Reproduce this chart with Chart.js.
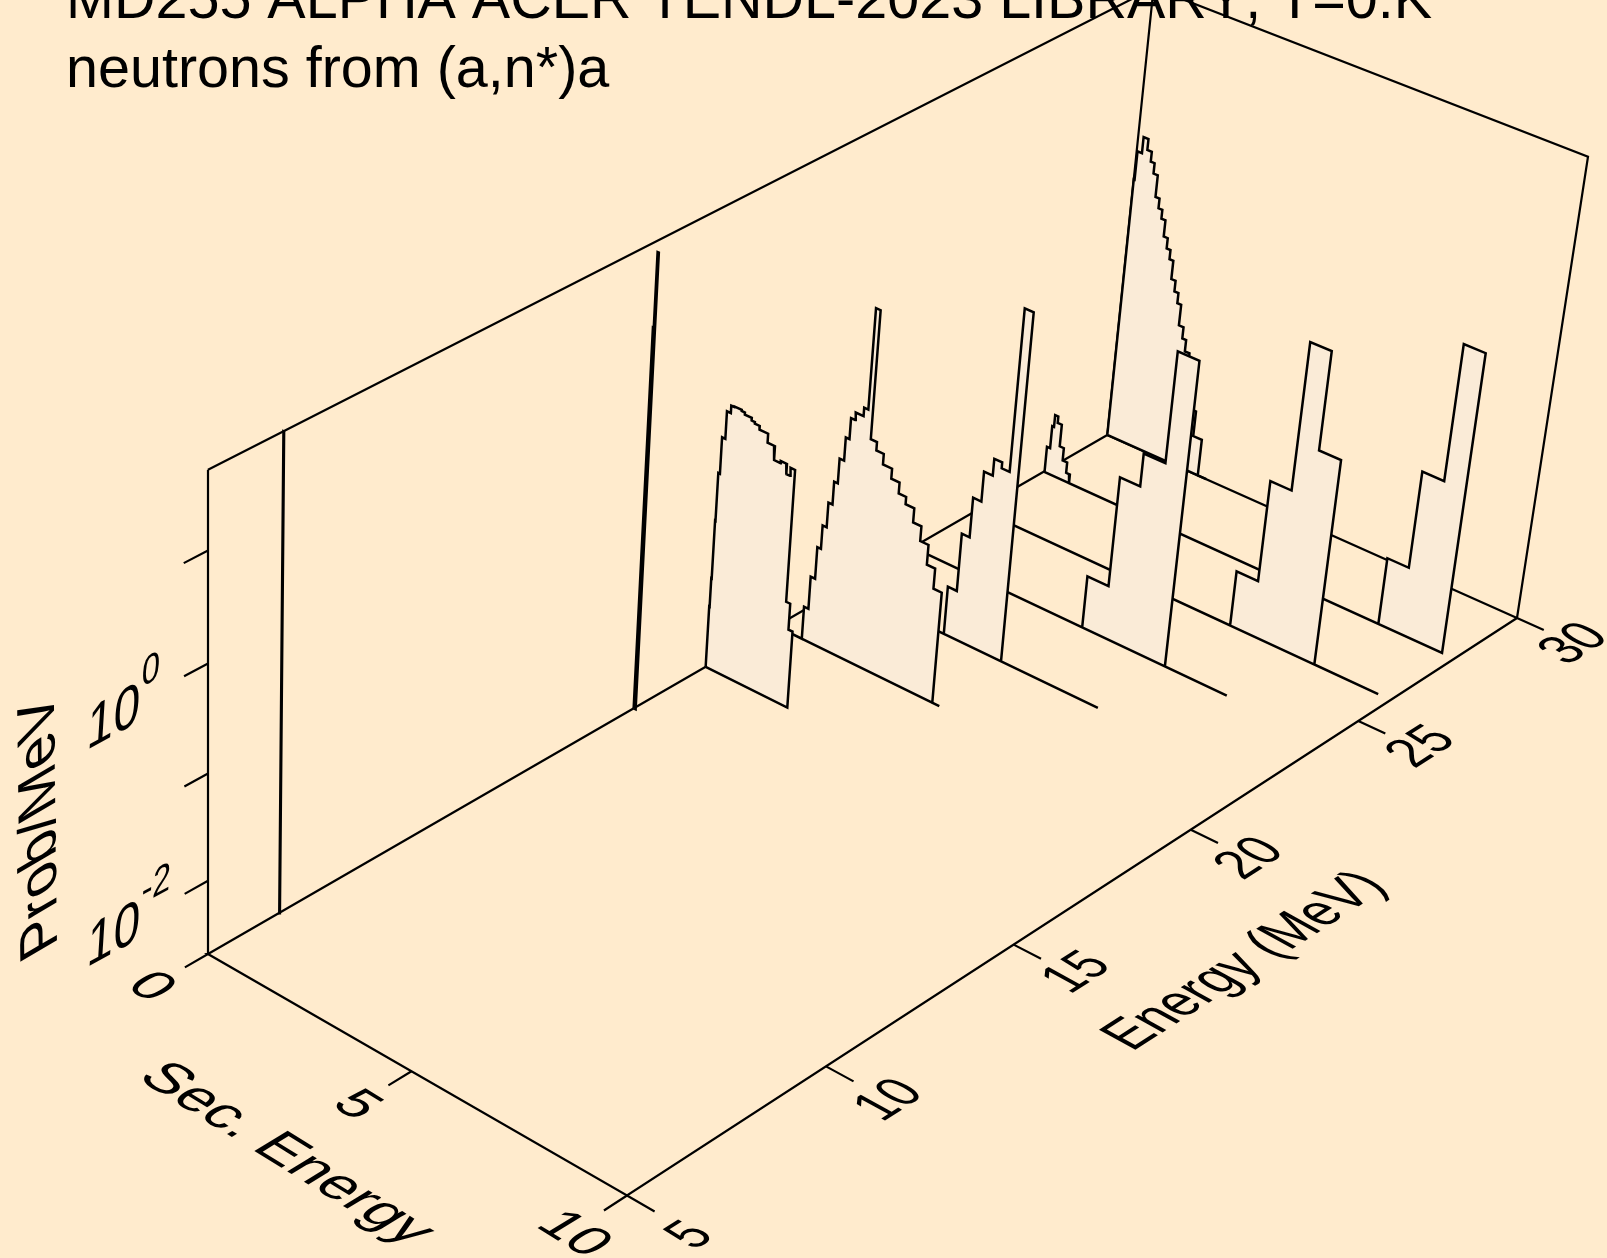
<!DOCTYPE html>
<html>
<head>
<meta charset="utf-8">
<title>MD255 ALPHA ACER TENDL-2023</title>
<script src="https://cdn.jsdelivr.net/npm/chart.js@4"></script>
<style>
    html, body { margin: 0; background: #FFEBCD; overflow: hidden; }
    canvas { display: block; }
</style>
</head>
<body>
<canvas id="myChart" width="1607" height="1258"></canvas>
<script>
// secondary energy bin edges (MeV) and probability per bin, one pair per incident energy
const e6Sec = [0, 0.015];
const e6Prob = [50];
const e16Sec = [0, 0.02, 0.05];
const e16Prob = [8.3, 40];
const e18Sec = [0, 0.01, 0.02, 0.03, 0.07, 0.15, 0.245, 0.33, 0.5, 0.58, 0.75, 0.83, 0.95, 1.16, 1.34, 1.5, 1.65, 1.74, 1.85, 1.95, 2.05];
const e18Prob = [0.00794, 0.0151, 0.055, 0.158, 0.351, 0.638, 0.75, 0.759, 0.741, 0.708, 0.668, 0.646, 0.596, 0.49, 0.363, 0.38, 0.305, 0.363, 0.02, 0.0112];
const e20Sec = [0, 0.65, 0.76, 0.87, 0.96, 1.06, 1.16, 1.25, 1.36, 1.45, 1.55, 1.74, 1.84, 1.95, 2.1, 2.28, 2.5, 2.7, 2.88, 3.09, 3.29, 3.49, 3.69, 3.89, 4.06];
const e20Prob = [0, 0.00417, 0.00871, 0.0178, 0.0302, 0.0525, 0.0871, 0.151, 0.251, 0.398, 0.468, 0.562, 4.95, 0.309, 0.257, 0.204, 0.164, 0.129, 0.11, 0.0804, 0.0582, 0.0376, 0.024, 0];
const e22Sec = [0, 2.48, 2.7, 2.89, 3.09, 3.3, 3.49, 3.68, 3.89, 6.23];
const e22Prob = [0, 0.00589, 0.0216, 0.0525, 0.102, 0.148, 0.13, 4.47, 0];
const e24Sec = [0, 4.23, 4.74, 5.22, 5.73, 6.23, 7.7];
const e24Prob = [0, 0.00646, 0.075, 0.155, 1.76, 0];
const e26Sec = [0, 6.22, 6.73, 7.225, 7.715, 8.22, 9.71];
const e26Prob = [0, 0.00692, 0.0661, 1.7, 0.197, 0];
const e28Sec = [0, 0.02, 0.1, 0.145, 0.225, 0.33, 0.435, 0.55, 0.645, 8.22, 8.72, 9.22, 9.71];
const e28Prob = [0, 0.00363, 0.0061, 0.00804, 0.00692, 0.00417, 0.00313, 0.00245, 0, 0.00902, 0.0785, 1.57];
const e30Sec = [0, 0.02, 0.13, 0.25, 0.36, 0.455, 0.56, 0.66, 0.755, 0.855, 0.955, 1.05, 1.145, 1.25, 1.35, 1.445, 1.56, 1.655, 1.77, 1.87, 1.97, 2.08, 2.295, 2.51];
const e30Prob = [0.741, 1.4, 2, 1.57, 1.26, 1, 0.617, 0.495, 0.407, 0.282, 0.224, 0.182, 0.12, 0.0944, 0.075, 0.0468, 0.0363, 0.0279, 0.02, 0.0141, 0.00822, 0.00462, 0];

const energyTicks = [5, 10, 15, 20, 25, 30];
const secTicks = [0, 5, 10];
const probTicks = [0.01, 0.1, 1, 10];

const energyRange = [5, 30];
const secRange = [0, 10];
const probRange = [0.002, 50];

// perspective view of the box, from (energy, sec, log prob), each scaled to 0..1
const viewX = [1058.5, 384.05, -11.64, 208];
const viewY = [-456.5, 174.9, -510.6, 954];
const viewW = [0.14378, -0.05574, -0.05598, 1];

const areaColor = '#FAEBD7';
const FONT = '"Liberation Sans"';

function project(energy, sec, prob) {
    const u = (energy - energyRange[0]) / (energyRange[1] - energyRange[0]);
    const v = (sec - secRange[0]) / (secRange[1] - secRange[0]);
    const lo = Math.log10(probRange[0]);
    const hi = Math.log10(probRange[1]);
    const t = (Math.log10(Math.max(prob, probRange[0])) - lo) / (hi - lo);
    const w = viewW[0] * u + viewW[1] * v + viewW[2] * t + viewW[3];
    return {
        x: (viewX[0] * u + viewX[1] * v + viewX[2] * t + viewX[3]) / w,
        y: (viewY[0] * u + viewY[1] * v + viewY[2] * t + viewY[3]) / w
    };
}

// histogram outline standing on the floor of the box, closed along the floor
function stairs(energy, sec, prob) {
    const first = project(energy, sec[0], 0);
    const pts = [first];
    prob.forEach(function(p, i) {
        pts.push(project(energy, sec[i], p));
        pts.push(project(energy, sec[i + 1], p));
    });
    pts.push(project(energy, sec[sec.length - 1], 0));
    pts.push(first);
    return pts;
}

function lineSet(points, order, width, fillColor) {
    return {
        data: points,
        order: order,
        showLine: true,
        borderColor: '#000',
        borderWidth: width,
        borderJoinStyle: 'miter',
        pointRadius: 0,
        fill: false,
        tension: 0,
        clip: false,
        areaColor: fillColor
    };
}

const [eMin, eMax] = energyRange;
const [sMin, sMax] = secRange;
const [pMin, pMax] = probRange;
const gap = { x: NaN, y: NaN };

const boxOutline = [
    project(eMin, sMin, pMax), project(eMax, sMin, pMax), project(eMax, sMax, pMax),
    project(eMax, sMax, pMin), project(eMin, sMax, pMin), project(eMin, sMin, pMin),
    project(eMin, sMin, pMax)
];
const boxInner = [
    project(eMax, sMin, pMax), project(eMax, sMin, pMin), project(eMax, sMax, pMin), gap,
    project(eMin, sMin, pMin), project(eMax, sMin, pMin)
];

// tick marks leave the box along the neighbouring axis
const tickMarks = [];
energyTicks.forEach(function(e) {
    tickMarks.push(project(e, sMax, pMin), project(e, sMax + 0.62, pMin), gap);
});
secTicks.forEach(function(s) {
    tickMarks.push(project(eMin, s, pMin), project(eMin - 0.56, s, pMin), gap);
});
probTicks.forEach(function(p) {
    tickMarks.push(project(eMin, sMin, p), project(eMin - 0.56, sMin, p), gap);
});

const spectra = [
    [6.75, e6Sec, e6Prob],
    [16, e16Sec, e16Prob],
    [18, e18Sec, e18Prob],
    [20, e20Sec, e20Prob],
    [22, e22Sec, e22Prob],
    [24, e24Sec, e24Prob],
    [26, e26Sec, e26Prob],
    [28, e28Sec, e28Prob],
    [30, e30Sec, e30Prob]
];

const datasets = spectra.map(function(s, i) {
    return lineSet(stairs(s[0], s[1], s[2]), i, 2.5, areaColor);
});
datasets.push(lineSet(boxInner, 20, 2.2));
datasets.push(lineSet(boxOutline, 21, 2.2));
datasets.push(lineSet(tickMarks, 22, 2.2));

// paints every histogram before its outline, so nearer ones hide farther ones
const areaFill = {
    id: 'areaFill',
    beforeDatasetDraw: function(chart, args) {
        const color = chart.data.datasets[args.index].areaColor;
        if (!color) return;
        const ctx = chart.ctx;
        ctx.save();
        ctx.beginPath();
        args.meta.data.forEach(function(pt, i) {
            if (i === 0) ctx.moveTo(pt.x, pt.y);
            else ctx.lineTo(pt.x, pt.y);
        });
        ctx.closePath();
        ctx.fillStyle = color;
        ctx.fill();
        ctx.restore();
    }
};

function planeText(ctx, str, x, y, size, base, up, align) {
    ctx.save();
    ctx.transform(base[0], base[1], -up[0], -up[1], x, y);
    ctx.font = size + 'px ' + FONT;
    ctx.fontKerning = 'none';
    ctx.textAlign = align || 'left';
    ctx.textBaseline = 'alphabetic';
    ctx.fillStyle = '#000';
    ctx.fillText(str, 0, 0);
    ctx.restore();
}

const energyShift = [[67, 55], [56, 56], [56, 50], [52, 51], [56, 48], [50, 48]];
const secShift = [[-57, 49], [-55, 50], [-40, 63]];

const axisText = {
    id: 'axisText',
    afterDatasetsDraw: function(chart) {
        const ctx = chart.ctx;
        const sx = chart.scales.x;
        const sy = chart.scales.y;

        ctx.save();
        ctx.font = '57.5px ' + FONT;
        ctx.fontKerning = 'none';
        ctx.fillStyle = '#000';
        ctx.textAlign = 'left';
        ctx.fillText('MD255 ALPHA ACER TENDL-2023 LIBRARY, T=0.K', sx.getPixelForValue(66), sy.getPixelForValue(18));
        ctx.fillText('neutrons from (a,n*)a', sx.getPixelForValue(66), sy.getPixelForValue(87));
        ctx.restore();

        const energyBase = [0.84, -0.54];
        const energyUp = [-1.07, -0.59];
        energyTicks.forEach(function(e, i) {
            const p = project(e, sMax, pMin);
            planeText(ctx, String(e), sx.getPixelForValue(p.x + energyShift[i][0]), sy.getPixelForValue(p.y + energyShift[i][1]), 47, energyBase, energyUp);
        });
        planeText(ctx, 'Energy (MeV)', sx.getPixelForValue(1132), sy.getPixelForValue(1052), 49.5, energyBase, energyUp);

        const secBase = [0.85, 0.525];
        const secUp = [0.82, -0.5];
        secTicks.forEach(function(s, i) {
            const p = project(eMin, s, pMin);
            planeText(ctx, String(s), sx.getPixelForValue(p.x + secShift[i][0]), sy.getPixelForValue(p.y + secShift[i][1]), 56, secBase, secUp, 'right');
        });
        planeText(ctx, 'Sec. Energy', sx.getPixelForValue(136), sy.getPixelForValue(1078), 59, secBase, secUp);

        const probBase = [0.88, -0.48];
        const probUp = [0.07, -1.13];
        [-2, 0].forEach(function(power) {
            const p = project(eMin, sMin, Math.pow(10, power));
            const x = p.x - 122;
            const y = p.y + 87;
            planeText(ctx, '10', sx.getPixelForValue(x), sy.getPixelForValue(y), 54, probBase, probUp);
            planeText(ctx, String(power), sx.getPixelForValue(x + 55), sy.getPixelForValue(y - 63), 37, probBase, probUp);
        });
        planeText(ctx, 'Prob/MeV', sx.getPixelForValue(57), sy.getPixelForValue(945), 56, [-0.013, -1.03], [-0.95, 0.56]);
    }
};

const myChart = new Chart(document.getElementById('myChart').getContext('2d'), {
    type: 'scatter',
    data: { datasets: datasets },
    plugins: [areaFill, axisText],
    options: {
        responsive: false,
        animation: false,
        devicePixelRatio: 1,
        events: [],
        layout: { padding: 0 },
        plugins: { legend: { display: false }, tooltip: { enabled: false }, title: { display: false } },
        scales: {
            x: { type: 'linear', min: 0, max: 1607, display: false },
            y: { type: 'linear', min: 0, max: 1258, reverse: true, display: false }
        }
    }
});
</script>
</body>
</html>
